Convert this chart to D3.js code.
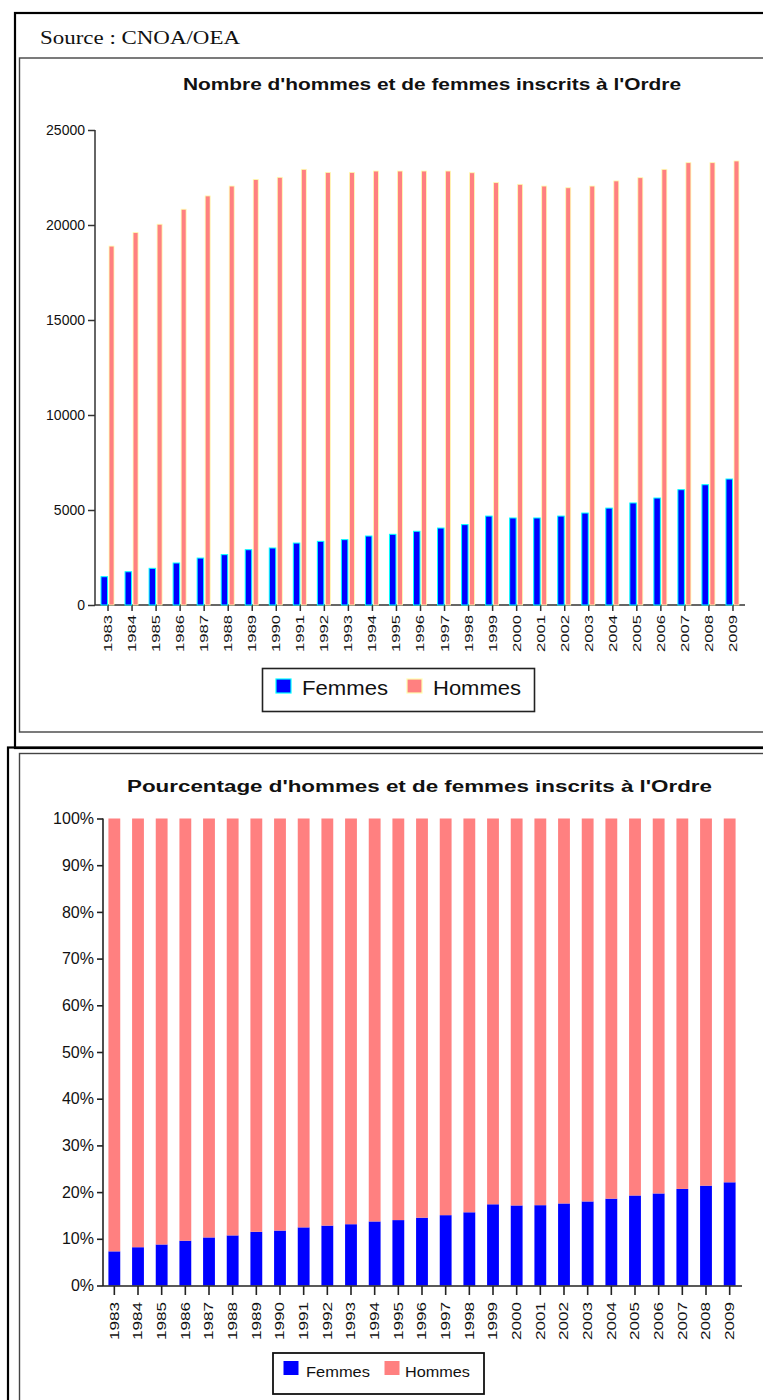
<!DOCTYPE html>
<html>
<head>
<meta charset="utf-8">
<script src="https://cdn.jsdelivr.net/npm/d3@7"></script>
<style>
  html, body { margin: 0; padding: 0; background: #fff; }
  svg { display: block; }
  text { font-family: "Liberation Sans", Arial, sans-serif; fill: #111; }
</style>
</head>
<body>
<svg id="page" width="763" height="1400"></svg>
<script>
// Inscrits à l'Ordre des architectes, 1983–2009 (source CNOA/OEA)
const years = ["1983","1984","1985","1986","1987","1988","1989","1990","1991","1992","1993","1994","1995",
               "1996","1997","1998","1999","2000","2001","2002","2003","2004","2005","2006","2007","2008","2009"];
const femmes = [1490,1750,1930,2210,2470,2650,2910,3000,3260,3350,3440,3630,3720,
                3880,4050,4230,4680,4580,4580,4680,4840,5100,5370,5630,6070,6330,6630];
const hommes = [18890,19600,20040,20830,21530,22050,22400,22510,22930,22770,22770,22840,22840,
                22840,22840,22750,22230,22140,22050,21960,22050,22320,22490,22930,23280,23280,23370];
const countTicks = [0,5000,10000,15000,20000,25000];
const pctTicks = [0,0.1,0.2,0.3,0.4,0.5,0.6,0.7,0.8,0.9,1];
const seriesNames = ["Femmes","Hommes"];

const BLUE = "#0000ff", PINK = "#ff8080";

const svg = d3.select("#page");

// ---- frames ----
const frames = svg.append("g").attr("fill", "none");
frames.append("rect").attr("x", 15).attr("y", 13).attr("width", 800).attr("height", 735)
  .attr("stroke", "#000").attr("stroke-width", 2.2);
frames.append("rect").attr("x", 19.5).attr("y", 58).attr("width", 800).attr("height", 674)
  .attr("stroke", "#444").attr("stroke-width", 1.4);
frames.append("rect").attr("x", 8).attr("y", 747.5).attr("width", 800).attr("height", 700)
  .attr("stroke", "#000").attr("stroke-width", 2.2);
frames.append("rect").attr("x", 19.5).attr("y", 753.5).attr("width", 800).attr("height", 700)
  .attr("stroke", "#444").attr("stroke-width", 1.4);

svg.append("text").attr("x", 40).attr("y", 44)
  .style("font-family", "'Liberation Serif', 'Times New Roman', serif")
  .attr("font-size", 18).attr("textLength", 200).attr("lengthAdjust", "spacingAndGlyphs")
  .text("Source : CNOA/OEA");

// ---- chart 1 : counts ----
{
  const g = svg.append("g");
  const x = d3.scaleBand().domain(years).range([96, 745]);
  const y = d3.scaleLinear().domain([0, 25000]).range([605, 130]);

  g.append("text").attr("x", 432).attr("y", 90).attr("text-anchor", "middle")
    .attr("font-size", 16).attr("font-weight", "bold")
    .attr("textLength", 498).attr("lengthAdjust", "spacingAndGlyphs")
    .text("Nombre d'hommes et de femmes inscrits à l'Ordre");

  const yAxis = g.append("g").attr("transform", "translate(95,0)")
    .call(d3.axisLeft(y).tickValues(countTicks).tickFormat(d3.format("d")).tickSize(7).tickPadding(3));
  yAxis.select(".domain").attr("stroke", "#333").attr("stroke-width", 1.5).attr("d", "M0,130V605");
  yAxis.selectAll(".tick line").attr("stroke", "#333").attr("stroke-width", 1.5);
  yAxis.selectAll(".tick text").attr("font-size", 14).style("font-family", "'Liberation Sans', Arial, sans-serif").attr("fill", "#111");

  const xAxis = g.append("g").attr("transform", "translate(0,605)")
    .call(d3.axisBottom(x).tickSize(6).tickPadding(3));
  xAxis.select(".domain").attr("stroke", "#333").attr("stroke-width", 1.5).attr("d", "M95,0H745");
  xAxis.selectAll(".tick line").attr("stroke", "#333").attr("stroke-width", 1.5);
  xAxis.selectAll(".tick text")
    .attr("transform", "rotate(-90)").attr("text-anchor", "end")
    .attr("x", -10).attr("y", 0).attr("dy", "0.36em")
    .attr("font-size", 11).attr("textLength", 37).attr("lengthAdjust", "spacingAndGlyphs")
    .style("font-family", "'Liberation Sans', Arial, sans-serif").attr("fill", "#222");

  const cx = d => x(d) + x.bandwidth() / 2;
  g.append("g").selectAll("rect").data(years).join("rect")
    .attr("x", (d) => cx(d) - 7).attr("width", 6.5)
    .attr("y", (d, i) => y(femmes[i])).attr("height", (d, i) => y(0) - y(femmes[i]))
    .attr("fill", BLUE).attr("stroke", "#00ffff").attr("stroke-width", 1);
  g.append("g").selectAll("rect").data(years).join("rect")
    .attr("x", (d) => cx(d) + 1).attr("width", 5)
    .attr("y", (d, i) => y(hommes[i])).attr("height", (d, i) => y(0) - y(hommes[i]))
    .attr("fill", PINK).attr("stroke", "#ffffb0").attr("stroke-width", 0.8);

  // legend
  const lg = g.append("g");
  lg.append("rect").attr("x", 262.5).attr("y", 668.5).attr("width", 272).attr("height", 43)
    .attr("fill", "#fff").attr("stroke", "#222").attr("stroke-width", 1.6);
  const items = [
    { name: seriesNames[0], sx: 276, tx: 302, tw: 86, fill: BLUE, stroke: "#00ffff" },
    { name: seriesNames[1], sx: 407, tx: 433, tw: 88, fill: PINK, stroke: "#ffffb0" }
  ];
  items.forEach(it => {
    lg.append("rect").attr("x", it.sx).attr("y", 679).attr("width", 15).attr("height", 14)
      .attr("fill", it.fill).attr("stroke", it.stroke).attr("stroke-width", 1.2);
    lg.append("text").attr("x", it.tx).attr("y", 695).attr("font-size", 20)
      .attr("textLength", it.tw).attr("lengthAdjust", "spacingAndGlyphs").text(it.name);
  });
}

// ---- chart 2 : percentages ----
{
  const g = svg.append("g");
  const x = d3.scaleBand().domain(years).range([102.5, 741.5]).paddingInner(0.5).paddingOuter(0.25);
  const y = d3.scaleLinear().domain([0, 1]).range([1285.5, 818.5]);

  const rows = years.map((yr, i) => ({ year: yr, Femmes: femmes[i], Hommes: hommes[i] }));
  const stack = d3.stack().keys(seriesNames).offset(d3.stackOffsetExpand)(rows);

  g.append("text").attr("x", 419.5).attr("y", 792).attr("text-anchor", "middle")
    .attr("font-size", 16).attr("font-weight", "bold")
    .attr("textLength", 585).attr("lengthAdjust", "spacingAndGlyphs")
    .text("Pourcentage d'hommes et de femmes inscrits à l'Ordre");

  const colors = { Femmes: BLUE, Hommes: PINK };
  stack.forEach(s => {
    g.append("g").selectAll("rect").data(s).join("rect")
      .attr("x", d => x(d.data.year)).attr("width", x.bandwidth())
      .attr("y", d => y(d[1])).attr("height", d => y(d[0]) - y(d[1]))
      .attr("fill", colors[s.key]);
  });

  const yAxis = g.append("g").attr("transform", "translate(103,0)")
    .call(d3.axisLeft(y).tickValues(pctTicks).tickFormat(d3.format(".0%")).tickSize(6).tickPadding(3));
  yAxis.select(".domain").attr("stroke", "#222").attr("stroke-width", 1.6).attr("d", "M0,818.5V1286");
  yAxis.selectAll(".tick line").attr("stroke", "#222").attr("stroke-width", 1.6);
  yAxis.selectAll(".tick text").attr("font-size", 16).style("font-family", "'Liberation Sans', Arial, sans-serif").attr("fill", "#111");

  const xAxis = g.append("g").attr("transform", "translate(0,1286)")
    .call(d3.axisBottom(x).tickSize(9).tickPadding(3));
  xAxis.select(".domain").attr("stroke", "#222").attr("stroke-width", 1.6).attr("d", "M103,0H742");
  xAxis.selectAll(".tick line").attr("stroke", "#222").attr("stroke-width", 1.6);
  xAxis.selectAll(".tick text")
    .attr("transform", "rotate(-90)").attr("text-anchor", "end")
    .attr("x", -16).attr("y", 0).attr("dy", "0.36em")
    .attr("font-size", 12).attr("textLength", 38).attr("lengthAdjust", "spacingAndGlyphs")
    .style("font-family", "'Liberation Sans', Arial, sans-serif").attr("fill", "#222");

  // legend
  const lg = g.append("g");
  lg.append("rect").attr("x", 273).attr("y", 1353).attr("width", 211).attr("height", 41)
    .attr("fill", "#fff").attr("stroke", "#111").attr("stroke-width", 1.8);
  const items = [
    { name: seriesNames[0], sx: 283.5, tx: 306, tw: 64, fill: BLUE },
    { name: seriesNames[1], sx: 384.5, tx: 405, tw: 65, fill: PINK }
  ];
  items.forEach(it => {
    lg.append("rect").attr("x", it.sx).attr("y", 1361).attr("width", 15).attr("height", 14)
      .attr("fill", it.fill);
    lg.append("text").attr("x", it.tx).attr("y", 1377).attr("font-size", 15)
      .attr("textLength", it.tw).attr("lengthAdjust", "spacingAndGlyphs").text(it.name);
  });
}
</script>
</body>
</html>
